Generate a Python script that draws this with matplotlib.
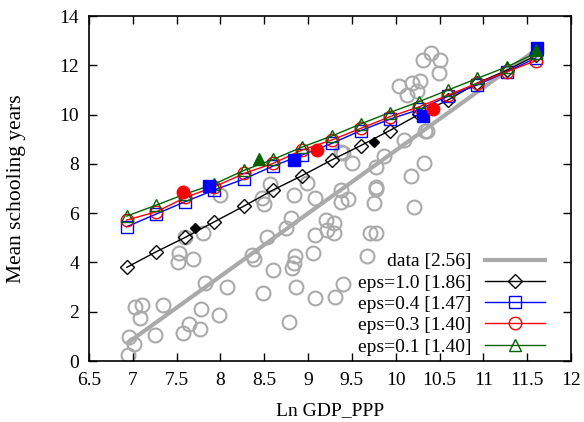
import matplotlib
matplotlib.use("Agg")
import matplotlib.pyplot as plt

plt.rcParams['font.family'] = ['Liberation Serif', 'DejaVu Serif']
plt.rcParams['font.size'] = 14

# ----------------------------
# Data
# ----------------------------
data_x = [6.95, 6.96, 7.01, 7.03, 7.10, 7.08, 7.25, 7.35, 7.51, 7.53, 7.69, 7.57,
          7.64, 7.77, 7.78, 7.82, 7.98, 8.07, 7.80, 7.60, 8.00, 8.36, 8.38, 8.47,
          8.50, 8.57, 8.84, 8.99, 9.08, 8.53, 8.75, 8.80, 8.60, 8.85, 8.84, 8.82,
          8.86, 8.49, 8.78, 9.06, 9.08, 9.08, 9.37, 9.37, 9.46, 9.77, 9.75, 9.21,
          9.30, 9.22, 9.30, 9.71, 9.77, 9.67, 9.31, 9.40, 10.31, 10.40, 10.51, 10.49,
          10.04, 10.13, 10.19, 10.28, 10.24, 10.33, 10.36, 10.09, 9.87, 9.78, 10.32,
          10.18, 9.37, 9.40, 9.50, 9.78, 10.21]
data_y = [0.24, 0.96, 0.69, 2.18, 2.27, 1.73, 1.05, 2.27, 4.00, 4.40, 4.13, 1.15,
          1.50, 1.29, 2.12, 3.15, 1.87, 3.02, 5.18, 5.05, 6.74, 4.32, 4.13, 6.60,
          6.36, 7.18, 6.74, 7.21, 6.60, 5.05, 5.38, 5.79, 3.69, 4.26, 3.96, 3.76,
          2.99, 2.75, 1.60, 4.37, 2.54, 5.11, 6.94, 6.47, 6.56, 6.97, 6.40, 5.72,
          5.61, 5.32, 5.21, 5.18, 5.18, 4.26, 2.61, 3.12, 12.22, 12.49, 12.22, 11.70,
          11.16, 10.80, 11.27, 11.36, 10.97, 9.35, 9.33, 8.97, 8.32, 7.89, 8.02,
          7.51, 8.50, 8.43, 8.02, 7.08, 6.26]

fit_x = [6.95, 11.55]
fit_y = [0.76, 12.50]

grid_x = [6.93, 7.27, 7.6, 7.93, 8.27, 8.6, 8.93, 9.27, 9.6, 9.93, 10.27, 10.6, 10.93, 11.27, 11.6]
eps10 = [3.80, 4.44, 5.02, 5.65, 6.29, 6.94, 7.52, 8.16, 8.74, 9.35, 10.02, 10.60, 11.28, 11.80, 12.40]
eps04 = [5.45, 5.97, 6.47, 6.94, 7.39, 7.91, 8.36, 8.83, 9.35, 9.81, 10.21, 10.75, 11.20, 11.74, 12.30]
eps03 = [5.72, 6.06, 6.64, 7.07, 7.61, 8.02, 8.56, 8.97, 9.44, 9.91, 10.32, 10.80, 11.27, 11.74, 12.19]
eps01 = [5.88, 6.33, 6.78, 7.18, 7.74, 8.18, 8.68, 9.13, 9.62, 10.08, 10.53, 11.00, 11.47, 11.94, 12.50]

# single filled points
pt10_x, pt10_y = [7.71, 9.75], [5.41, 8.88]
pt04_x, pt04_y = [7.87, 8.84, 10.31, 11.61], [7.12, 8.16, 9.96, 12.69]
pt03_x, pt03_y = [7.57, 9.10, 10.43], [6.87, 8.56, 10.24]
pt01_x, pt01_y = [8.44, 11.60], [8.20, 12.62]

labels = ["data [2.56]", "eps=1.0 [1.86]", "eps=0.4 [1.47]", "eps=0.3 [1.40]", "eps=0.1 [1.40]"]

gray = '#aaaaaa'
green = '#006400'

fig = plt.figure(figsize=(5.84, 4.22), dpi=100)
ax = fig.add_axes([0.1524, 0.1445, 0.8253, 0.8175])

# data scatter and fit
ax.plot(data_x, data_y, 'o', mfc='none', mec=gray, mew=1.5, ms=10, zorder=1)
ax.plot(fit_x, fit_y, '-', color=gray, lw=3, label=labels[0], zorder=2)

# model curves
ax.plot(grid_x, eps10, '-D', color='black', mfc='none', ms=7, lw=1, mew=1, label=labels[1], zorder=3)
ax.plot(grid_x, eps04, '-s', color='blue', mfc='none', ms=8, lw=1, mew=1, label=labels[2], zorder=4)
ax.plot(grid_x, eps03, '-o', color='red', mfc='none', ms=9, lw=1, mew=1, label=labels[3], zorder=5)
ax.plot(grid_x, eps01, '-^', color=green, mfc='none', ms=9, lw=1, mew=1, label=labels[4], zorder=6)

# filled points
ax.plot(pt10_x, pt10_y, 'D', color='black', ms=5, ls='none', zorder=7)
ax.plot(pt04_x, pt04_y, 's', color='blue', ms=9, ls='none', zorder=7)
ax.plot(pt03_x, pt03_y, 'o', color='red', ms=9, ls='none', zorder=7)
ax.plot(pt01_x, pt01_y, '^', color=green, ms=9, ls='none', zorder=8)

ax.set_xlim(6.5, 12)
ax.set_ylim(0, 14)
ax.set_xticks([6.5, 7, 7.5, 8, 8.5, 9, 9.5, 10, 10.5, 11, 11.5, 12])
ax.set_xticklabels(['6.5', '7', '7.5', '8', '8.5', '9', '9.5', '10', '10.5', '11', '11.5', '12'])
ax.set_yticks(range(0, 15, 2))
ax.tick_params(direction='in', length=6, width=1, top=True, right=True, labelsize=14)
ax.tick_params(axis='x', pad=8)
ax.tick_params(axis='y', pad=7)
for s in ax.spines.values():
    s.set_linewidth(1.2)

ax.set_xlabel("Ln GDP_PPP", fontsize=14, labelpad=9)
ax.set_ylabel("Mean schooling years", fontsize=15.5, labelpad=24)

ax.legend(loc='lower right', bbox_to_anchor=(0.9575, 0.0), frameon=False, markerfirst=False,
          handlelength=3.1, labelspacing=0.19, handletextpad=0.7, borderaxespad=-0.12,
          numpoints=1, fontsize=14)

fig.savefig("out.png", dpi=100)
